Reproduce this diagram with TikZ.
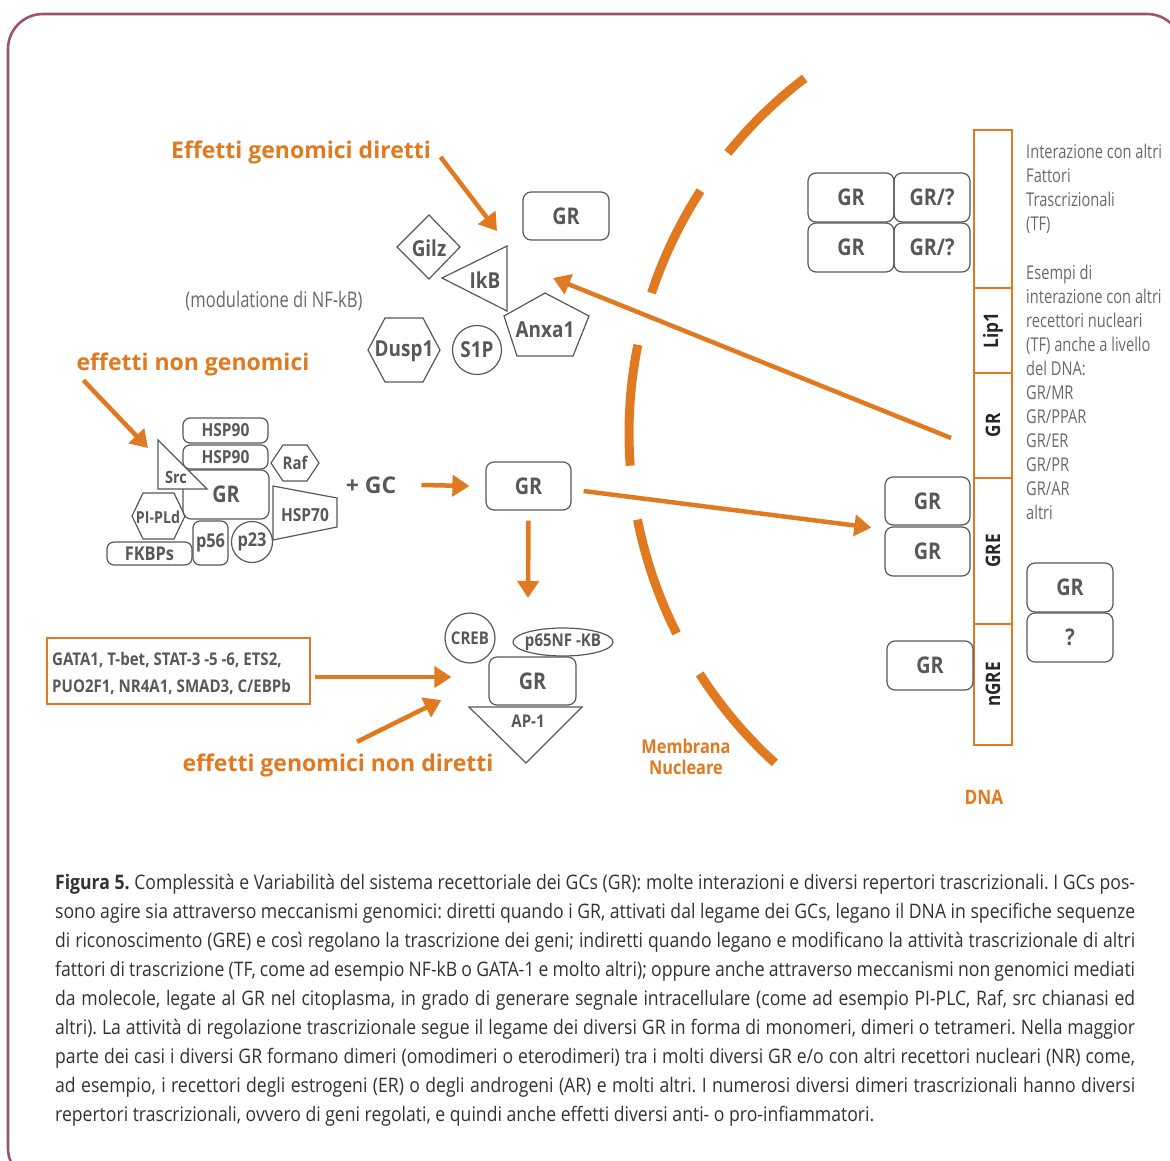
\documentclass[tikz,border=0pt]{standalone}
\usepackage{fontspec}
\setmainfont{Open Sans}
\newfontfamily\cnd[FakeStretch=0.77]{Open Sans}
\newfontfamily\cpf[FakeStretch=0.88]{Open Sans}
\newfontfamily\lbf[FakeStretch=0.86]{Open Sans}
\usetikzlibrary{arrows.meta}
\definecolor{org}{RGB}{224,121,32}
\definecolor{frm}{RGB}{156,82,116}
\definecolor{ink}{RGB}{88,88,88}
\definecolor{soft}{RGB}{105,105,105}
\definecolor{captc}{RGB}{50,50,50}
\newcommand\fsz[1]{\fontsize{#1}{#1}\selectfont}
\frenchspacing
\begin{document}
\begin{tikzpicture}[x=1pt, y=-1pt,
  pen/.style={draw=ink, line width=1.2pt},
  gbox/.style={pen, rounded corners=8pt, inner sep=0pt, text=ink, font=\lbf\bfseries\fsz{23}},
  glab/.style={text=ink, inner sep=0pt, font=\lbf\bfseries\fsz{#1}},
  glab/.default=22,
  ohead/.style={text=org, inner sep=0pt, font=\bfseries\fsz{23}},
  oarrow/.style={draw=org, line width=4.5pt, -{Triangle[length=17pt,width=21pt]}},
  memb/.style={draw=org, line width=9pt},
  dnaseg/.style={draw=org, line width=1.6pt, rotate=90, inner sep=0pt, minimum height=38pt, text=black!85, font=\lbf\bfseries\fsz{20}},
  infotxt/.style={text=soft, inner sep=0pt, anchor=base west, font=\cnd\fsz{19}},
  captxt/.style={text=captc, inner sep=0pt, anchor=base west, font=\cpf\fsz{20}},
  gtxt/.style={text=ink, inner sep=0pt, anchor=base west, font=\lbf\bfseries\fsz{17.5}},
  outerframe/.style={draw=frm, line width=2.6pt, rounded corners=35pt},
]
\useasboundingbox (0,0) rectangle (1170,1161);
\draw[outerframe] (8,14) rectangle (1182,1183);

% nuclear membrane (dashed arc)
\foreach \a/\b in {232.7/218.9, 212.9/198.3, 191.4/175.8, 168.8/153.3, 147.3/132.3}
  \draw[memb] (1075,433) ++(\a:446) arc[start angle=\a, end angle=\b, radius=446];

% headings
\node[ohead] (hDir) at (301,152) {Effetti genomici diretti};
\node[ohead] (hNon) at (193,364) {effetti non genomici};
\node[ohead] (hInd) at (338,765) {effetti genomici non diretti};
\node[text=soft, inner sep=0pt, font=\cnd\fsz{21.5}] (nfkb) at (274,301) {(modulatione di NF-kB)};

% direct genomic targets
\node[gbox, minimum width=86pt, minimum height=48pt] (grTop) at (566,216) {GR};
\draw[pen] (429,215) -- (460,247) -- (429,279) -- (397,247) -- cycle;
\node[glab] (gilz) at (429,248) {Gilz};
\draw[pen] (507,246) -- (507,311) -- (442,278) -- cycle;
\node[glab] (ikb) at (485,280) {IkB};
\draw[pen] (545,293) -- (589,316) -- (573,356) -- (517,356) -- (504,316) -- cycle;
\node[glab] (anxa) at (545,330) {Anxa1};
\draw[pen] (368,350) -- (385,318) -- (423,318) -- (440,350) -- (423,382) -- (385,382) -- cycle;
\node[glab] (dusp) at (404,351) {Dusp1};
\node[pen, circle, minimum size=49pt, inner sep=0pt, text=ink, font=\lbf\bfseries\fsz{22}] (s1p) at (477,350) {S1P};

% non-genomic complex
\node[gbox, font=\lbf\bfseries\fsz{18}, rounded corners=7pt, minimum width=85pt, minimum height=25pt] (hspA) at (225.5,430.5) {HSP90};
\node[gbox, font=\lbf\bfseries\fsz{18}, rounded corners=7pt, minimum width=85pt, minimum height=24pt] (hspB) at (225.5,457) {HSP90};
\node[gbox, minimum width=86pt, minimum height=49pt] (grL) at (226,494.5) {GR};
\draw[pen, fill=white] (158,440) -- (158,489) -- (207,489) -- cycle;
\node[glab=17] (src) at (176,477) {Src};
\draw[pen] (271,463) -- (283,445) -- (307,445) -- (319,463) -- (307,481) -- (283,481) -- cycle;
\node[glab=17.5] (raf) at (295,463) {Raf};
\draw[pen] (273,486) -- (337,498) -- (337,527) -- (273,540) -- cycle;
\node[glab=18] (hsp70) at (305,515) {HSP70};
\draw[pen] (132,516) -- (143,493) -- (174,493) -- (185,516) -- (174,539) -- (143,539) -- cycle;
\node[glab=16.5] (plc) at (158,517) {PI-PLd};
\node[gbox, font=\lbf\bfseries\fsz{19}, rounded corners=7pt, minimum width=85pt, minimum height=23pt] (fkbp) at (149.5,553.5) {FKBPs};
\node[gbox, font=\lbf\bfseries\fsz{19}, rounded corners=7pt, minimum width=35pt, minimum height=44pt] (p56) at (210.5,543) {p56};
\node[pen, circle, minimum size=41pt, inner sep=0pt, text=ink, font=\lbf\bfseries\fsz{19}] (p23) at (252,542) {p23};
\node[text=ink, inner sep=0pt, font=\bfseries\fsz{23}] (gc) at (371,485) {+ GC};

% activated receptor and indirect genomic effects
\node[gbox, minimum width=85pt, minimum height=48pt] (gr2) at (528.5,486) {GR};
\node[pen, circle, minimum size=50pt, inner sep=0pt, text=ink, font=\lbf\bfseries\fsz{17.5}] (creb) at (470,638) {CREB};
\draw[pen] (563,642) ellipse[x radius=50, y radius=14];
\node[glab=17.5] (p65) at (563,642) {p65NF -KB};
\node[gbox, minimum width=87pt, minimum height=48pt] (gr3) at (532.5,681) {GR};
\draw[pen] (469,707) -- (582,707) -- (526,763) -- cycle;
\node[glab=17.5] (ap1) at (528,721) {AP-1};
\node[draw=org, line width=1.5pt, minimum width=263pt, minimum height=66pt, inner sep=0pt] (gata) at (178.5,671) {};
\node[gtxt] (gata1) at (52,665) {GATA1, T-bet, STAT-3 -5 -6, ETS2,};
\node[gtxt] (gata2) at (52,692) {PUO2F1, NR4A1, SMAD3, C/EBPb};

% dimers interacting with other transcription factors
\node[gbox, minimum width=86pt, minimum height=49pt] (grP1) at (851,197.5) {GR};
\node[gbox, minimum width=76pt, minimum height=49pt] (grQ1) at (932,197.5) {GR/?};
\node[gbox, minimum width=86pt, minimum height=49pt] (grP2) at (851,247.5) {GR};
\node[gbox, minimum width=76pt, minimum height=49pt] (grQ2) at (932,247.5) {GR/?};

% DNA strand with response elements
\node[dnaseg, minimum width=158pt] (dTop) at (993,209) {};
\node[dnaseg, minimum width=85pt] (dLip) at (993,330.5) {Lip1};
\node[dnaseg, minimum width=105pt] (dGR) at (993,425.5) {GR};
\node[dnaseg, minimum width=146pt] (dGRE) at (993,551) {GRE};
\node[dnaseg, minimum width=121pt] (dnGRE) at (993,684.5) {nGRE};
\node[text=org, inner sep=0pt, font=\lbf\bfseries\fsz{20}] (dnaLbl) at (984,797) {DNA};
\node[text=org, inner sep=0pt, align=center, font=\lbf\bfseries\fontsize{19}{21}\selectfont] (membLbl) at (686,757) {Membrana\\Nucleare};

\node[gbox, minimum width=85pt, minimum height=48pt] (grG1) at (927.5,501) {GR};
\node[gbox, minimum width=85pt, minimum height=49pt] (grG2) at (927.5,551.5) {GR};
\node[gbox, minimum width=86pt, minimum height=49pt] (grN) at (930,665.5) {GR};
\node[gbox, minimum width=86pt, minimum height=49pt] (grX) at (1070,587.5) {GR};
\node[gbox, minimum width=86pt, minimum height=49pt] (qX) at (1070,637.5) {?};

% side notes
\foreach \k/\t in {0/Interazione con altri, 1/Fattori, 2/Trascrizionali, 3/(TF),
    5/Esempi di, 6/interazione con altri, 7/recettori nucleari, 8/(TF) anche a livello,
    9/del DNA:, 10/{GR/MR}, 11/{GR/PPAR}, 12/{GR/ER}, 13/{GR/PR}, 14/{GR/AR}, 15/altri}
  \node[infotxt] (info\k) at (1026,{159+24*\k}) {\t};

% arrows
\coordinate (tDir) at (497,231);
\coordinate (tNon) at (148,448);
\coordinate (tDown) at (528,598);
\coordinate (tIkb) at (553,278);
\draw[oarrow] ([shift={(9.5,5)}]hDir.east) -- (tDir);
\draw[oarrow] ([shift={(7,4.5)}]hNon.south west) -- (tNon);
\draw[oarrow] ([xshift=25pt]gc.east) -- ([xshift=-16pt]gr2.west);
\draw[oarrow] ([yshift=-10pt]gr2.south) -- (tDown);
\draw[oarrow] ([shift={(12,5)}]gr2.east) -- ([shift={(-13,2)}]grG1.south west);
\draw[oarrow] ([shift={(-42,12.5)}]dGR.center) -- (tIkb);
\draw[oarrow] ([shift={(4,6)}]gata.east) -- ([shift={(-37,-4)}]gr3.west);
\draw[oarrow] ([shift={(19,-11.5)}]hInd.north) -- ([shift={(-47,19)}]gr3.west);

% caption
\node[captxt] (cap1) at (55,889) {\makebox[1080pt][s]{\textbf{Figura 5.} Complessità e Variabilità del sistema recettoriale dei GCs (GR): molte interazioni e diversi repertori trascrizionali. I GCs pos-}};
\node[captxt] (cap2) at (55,918) {\makebox[1080pt][s]{sono agire sia attraverso meccanismi genomici: diretti quando i GR, attivati dal legame dei GCs, legano il DNA in specifiche sequenze}};
\node[captxt] (cap3) at (55,947) {\makebox[1080pt][s]{di riconoscimento (GRE) e così regolano la trascrizione dei geni; indiretti quando legano e modificano la attività trascrizionale di altri}};
\node[captxt] (cap4) at (55,976) {\makebox[1080pt][s]{fattori di trascrizione (TF, come ad esempio NF-kB o GATA-1 e molto altri); oppure anche attraverso meccanismi non genomici mediati}};
\node[captxt] (cap5) at (55,1005) {\makebox[1080pt][s]{da molecole, legate al GR nel citoplasma, in grado di generare segnale intracellulare (come ad esempio PI-PLC, Raf, src chianasi ed}};
\node[captxt] (cap6) at (55,1034) {\makebox[1080pt][s]{altri). La attività di regolazione trascrizionale segue il legame dei diversi GR in forma di monomeri, dimeri o tetrameri. Nella maggior}};
\node[captxt] (cap7) at (55,1063) {\makebox[1080pt][s]{parte dei casi i diversi GR formano dimeri (omodimeri o eterodimeri) tra i molti diversi GR e/o con altri recettori nucleari (NR) come,}};
\node[captxt] (cap8) at (55,1092) {\makebox[1080pt][s]{ad esempio, i recettori degli estrogeni (ER) o degli androgeni (AR) e molti altri. I numerosi diversi dimeri trascrizionali hanno diversi}};
\node[captxt] (cap9) at (55,1121) {repertori trascrizionali, ovvero di geni regolati, e quindi anche effetti diversi anti- o pro-infiammatori.};
\end{tikzpicture}
\end{document}
